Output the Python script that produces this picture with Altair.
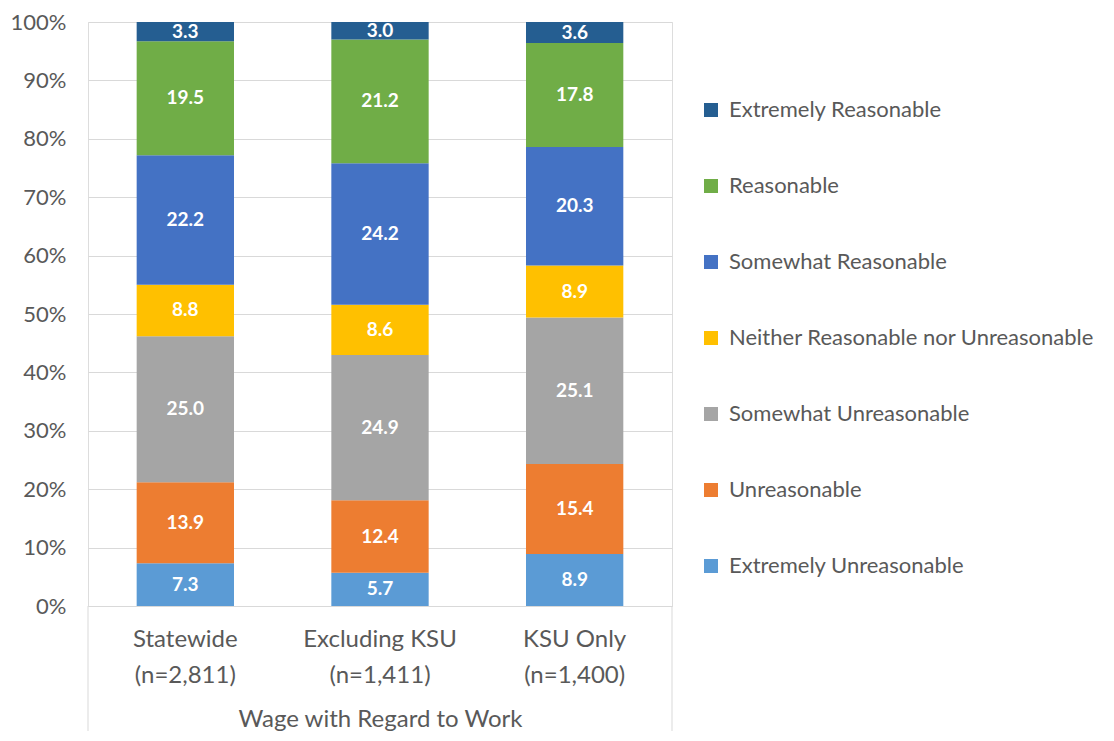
import altair as alt
import pandas as pd

groups = ["Statewide\n(n=2,811)", "Excluding KSU\n(n=1,411)", "KSU Only\n(n=1,400)"]
levels = ["Extremely Unreasonable", "Unreasonable", "Somewhat Unreasonable",
          "Neither Reasonable nor Unreasonable", "Somewhat Reasonable",
          "Reasonable", "Extremely Reasonable"]
colors = ["#5B9BD5", "#ED7D31", "#A5A5A5", "#FFC000", "#4472C4", "#70AD47", "#255E91"]
statewide = [7.3, 13.9, 25.0, 8.8, 22.2, 19.5, 3.3]
excluding = [5.7, 12.4, 24.9, 8.6, 24.2, 21.2, 3.0]
ksu_only = [8.9, 15.4, 25.1, 8.9, 20.3, 17.8, 3.6]
y_ticks = [0, 10, 20, 30, 40, 50, 60, 70, 80, 90, 100]

rows = []
for g, vals in zip(groups, [statewide, excluding, ksu_only]):
    for r, (lvl, v) in enumerate(zip(levels, vals)):
        rows.append({"group": g, "level": lvl, "value": v, "rank": r})
df = pd.DataFrame(rows)

FONT = "Lato"
GRAY = "#595959"
W, H = 584, 584

base = alt.Chart(df).transform_stack(
    stack="value", as_=["y0", "y1"], groupby=["group"], sort=[alt.SortField("rank")]
).transform_calculate(mid="(datum.y0 + datum.y1) / 2")

x_enc = alt.X("group:N", sort=groups, title="Wage with Regard to Work",
              scale=alt.Scale(paddingInner=0.5, paddingOuter=0.25),
              axis=alt.Axis(labelExpr="split(datum.label, '\\n')", labelAngle=0,
                            labelFontSize=24, labelColor=GRAY, labelFont=FONT,
                            labelLineHeight=36, labelPadding=21, ticks=False,
                            domainColor="#D9D9D9", domainWidth=1,
                            titleFont=FONT, titleFontSize=24, titleColor=GRAY,
                            titleFontWeight="normal", titlePadding=20))

bars = base.mark_bar().encode(
    x=x_enc,
    y=alt.Y("y0:Q", scale=alt.Scale(domain=[0, 100], nice=False), title=None,
            axis=alt.Axis(values=y_ticks, labelExpr="datum.value + '%'",
                          labelFontSize=22, labelColor=GRAY, labelFont=FONT,
                          labelPadding=22, ticks=False, domain=False,
                          gridColor="#D9D9D9", gridWidth=1)),
    y2="y1:Q",
    color=alt.Color("level:N", scale=alt.Scale(domain=levels[::-1], range=colors[::-1]),
                    title=None,
                    legend=alt.Legend(orient="none", legendX=612, legendY=77,
                                      symbolType="square", symbolSize=196,
                                      symbolStrokeWidth=0,
                                      labelFontSize=22, labelColor=GRAY, labelFont=FONT,
                                      labelOffset=7, rowPadding=54, labelLimit=500)),
    order=alt.Order("rank:Q"),
)

labels = base.mark_text(color="white", fontWeight="bold", fontSize=19, font=FONT,
                        baseline="middle").encode(
    x=alt.X("group:N", sort=groups),
    y=alt.Y("mid:Q"),
    text=alt.Text("value:Q", format=".1f"),
)

edges = alt.Chart(pd.DataFrame({"side": ["left", "right"], "px": [0, W]})).mark_rule(
    color="#D9D9D9", strokeWidth=1
).encode(x=alt.X("px:Q", scale=None), y=alt.value(H), y2=alt.value(H + 140))

chart = alt.layer(bars, labels, edges).properties(
    width=W, height=H,
    autosize=alt.AutoSizeParams(type="none"),
    padding={"left": 80, "top": 14, "right": 426, "bottom": 125},
).configure_view(stroke=None).configure(font=FONT)

chart.save("out.html", embed_options={"renderer": "svg", "actions": False})
